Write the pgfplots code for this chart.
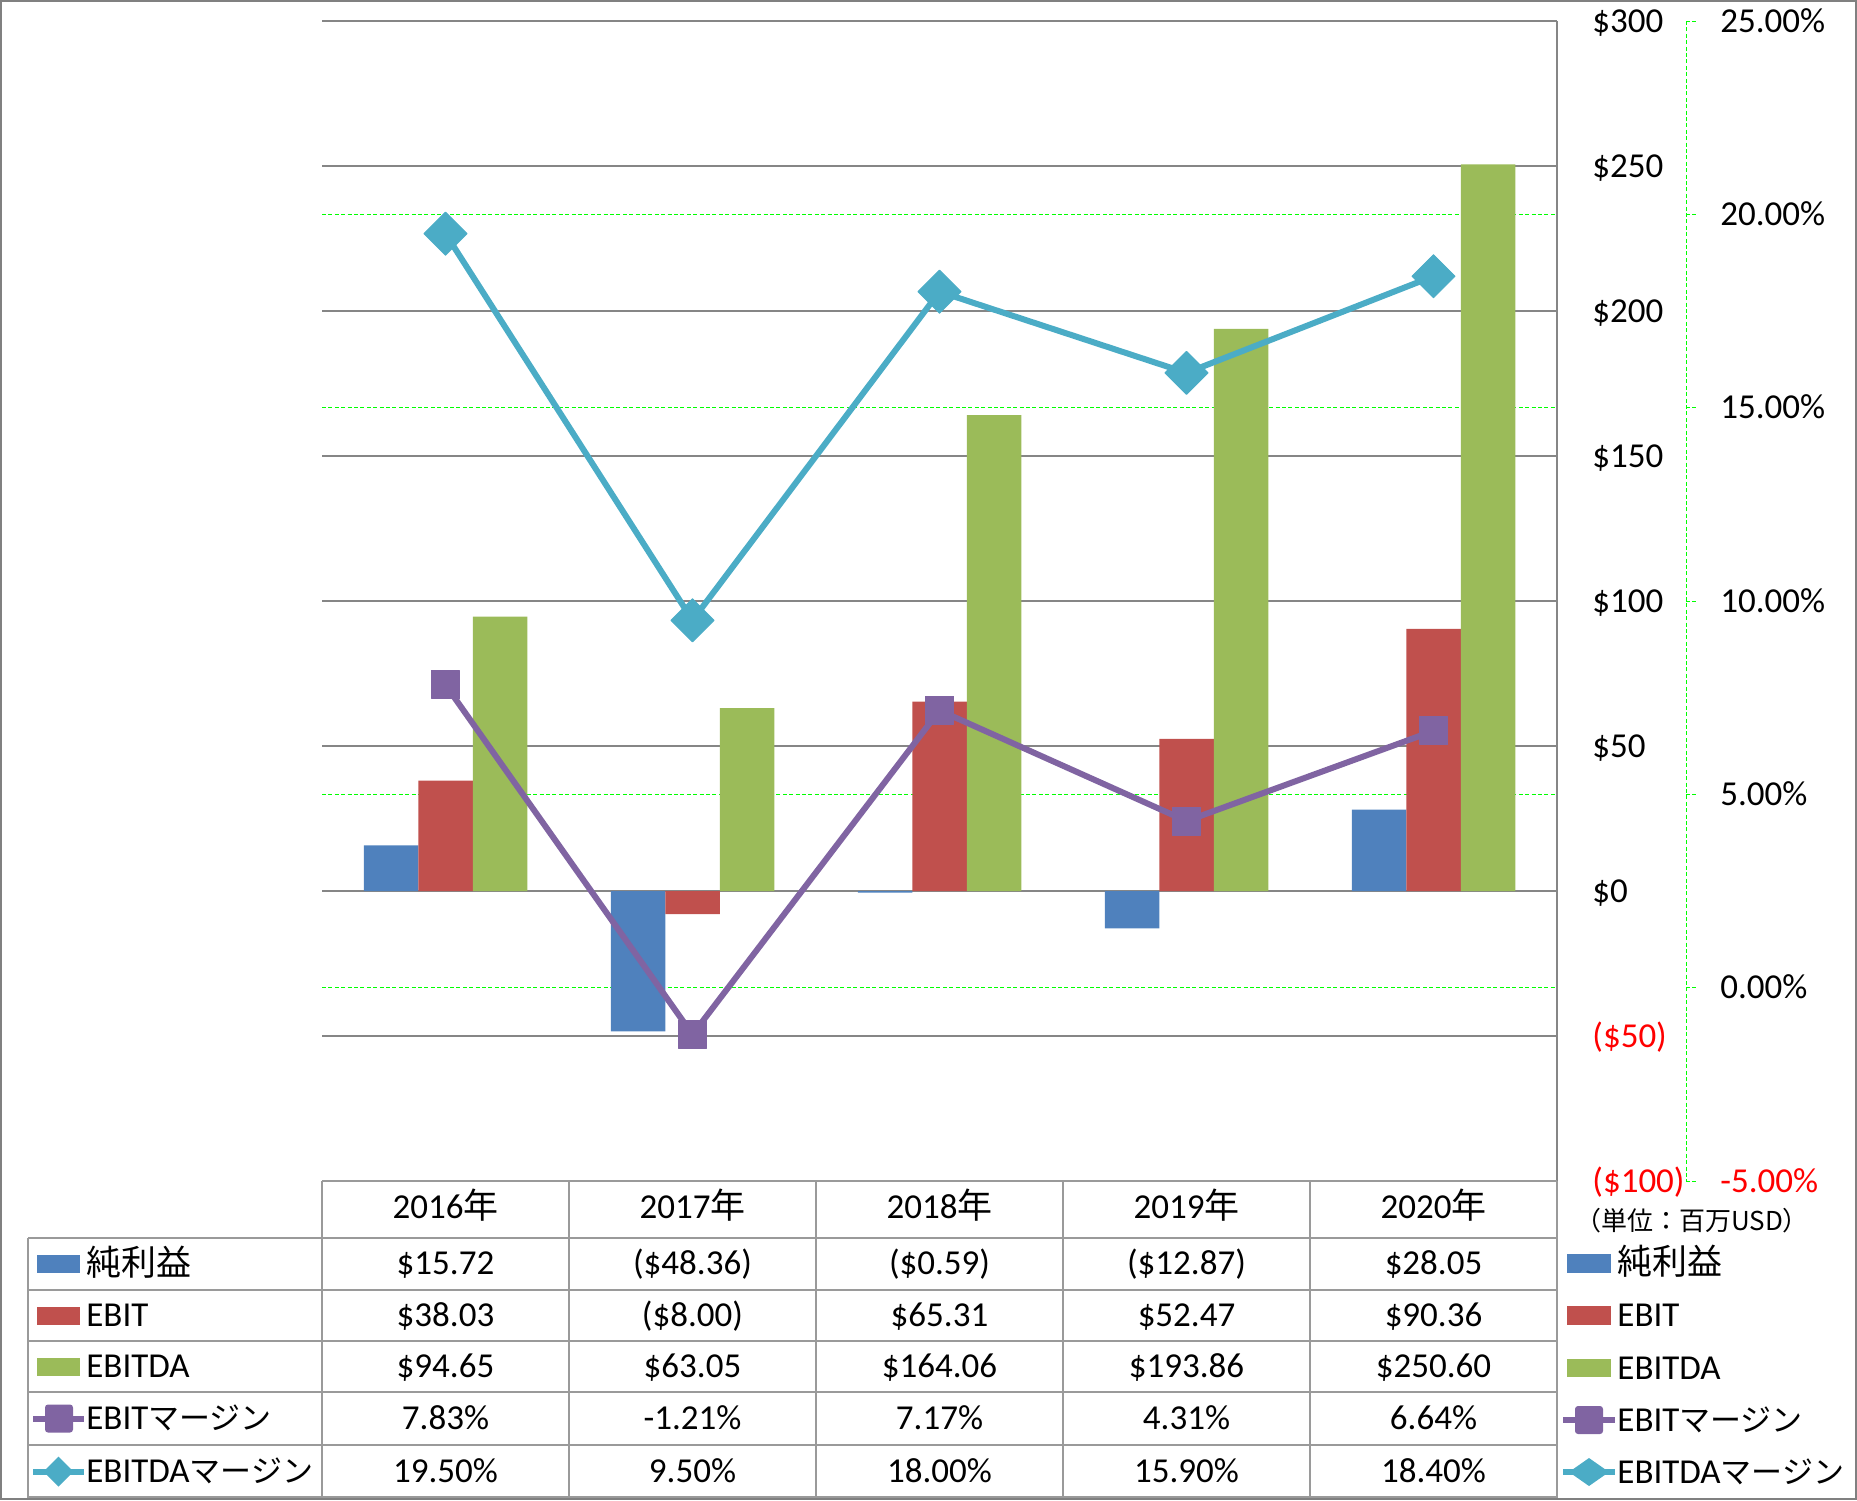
\documentclass[border=0pt]{standalone}
\usepackage{pgfplots}
\pgfplotsset{compat=1.18}
\usepackage{fontspec}
\setmainfont{Carlito}
\newfontfamily\cjk{Noto Sans CJK JP}
\newcommand{\kata}[1]{{\cjk\fontsize{15.5pt}{18pt}\selectfont #1}}
\definecolor{cNI}{HTML}{4F81BD}
\definecolor{cEBIT}{HTML}{C0504D}
\definecolor{cEBITDA}{HTML}{9BBB59}
\definecolor{cEM}{HTML}{8064A2}
\definecolor{cEDM}{HTML}{4BACC6}
\definecolor{gridgray}{HTML}{868686}
\definecolor{tabgray}{HTML}{9A9A9A}
\definecolor{ggreen}{HTML}{00FF00}
\begin{document}
\begin{tikzpicture}[font=\fontsize{17.5pt}{21pt}\selectfont]
\begin{scope}[x=0.5pt, y=-0.5pt]
\useasboundingbox (0,0) rectangle (1857,1500);
\end{scope}
% secondary scale: grid and labels only
\begin{axis}[
  at={(161pt,-590.5pt)}, anchor=south west,
  width=617.5pt, height=580pt, scale only axis,
  xmin=-0.5, xmax=4.5, ymin=-5, ymax=25,
  axis x line=none, axis y line*=right,
  axis line style={draw=none},
  xtick=\empty,
  ytick={0,5,10,15,20},
  yticklabels={0.00\%,5.00\%,10.00\%,15.00\%,20.00\%},
  extra y ticks={-5,25},
  extra y tick labels={{\color{red}-5.00\%},25.00\%},
  extra y tick style={grid=none},
  yticklabel style={anchor=west, inner sep=0pt, xshift=81.5pt, text height=13pt, text depth=2pt},
  major tick length=0pt,
  ymajorgrids, grid style={ggreen, line width=0.5pt, dash pattern=on 2pt off 1.2pt},
]
\end{axis}
% primary axis with bars
\begin{axis}[
  at={(161pt,-590.5pt)}, anchor=south west,
  width=617.5pt, height=580pt, scale only axis,
  xmin=-0.5, xmax=4.5, ymin=-100, ymax=300,
  axis x line=none, axis y line*=right,
  axis line style={gridgray, line width=0.75pt},
  xtick=\empty,
  ytick={-100,-50,0,50,100,150,200,250,300},
  yticklabels={{\color{red}(\$100)},{\color{red}(\$50)},\$0,\$50,\$100,\$150,\$200,\$250,\$300},
  yticklabel style={anchor=west, inner sep=0pt, xshift=17.5pt, text height=13pt, text depth=2pt},
  major tick length=0pt,
  ymajorgrids, grid style={gridgray, line width=0.75pt},
  ybar=0pt, bar width=27.25pt,
]
\addplot[fill=cNI, draw=none] coordinates {(0,15.72) (1,-48.36) (2,-0.59) (3,-12.87) (4,28.05)};
\addplot[fill=cEBIT, draw=none] coordinates {(0,38.03) (1,-8.00) (2,65.31) (3,52.47) (4,90.36)};
\addplot[fill=cEBITDA, draw=none] coordinates {(0,94.65) (1,63.05) (2,164.06) (3,193.86) (4,250.60)};
\end{axis}
% secondary scale: lines
\begin{axis}[
  at={(161pt,-590.5pt)}, anchor=south west,
  width=617.5pt, height=580pt, scale only axis,
  xmin=-0.5, xmax=4.5, ymin=-5, ymax=25,
  hide axis, clip=false,
]
\addplot[cEM, line width=3pt, line join=round, mark=square*, mark size=7pt,
  mark options={fill=cEM, draw=cEM, line width=0.5pt, rounded corners=1.5pt}]
  coordinates {(0,7.83) (1,-1.21) (2,7.17) (3,4.31) (4,6.64)};
\addplot[cEDM, line width=3pt, line join=round, mark=square*, mark size=7.6pt,
  mark options={fill=cEDM, draw=cEDM, line width=0.5pt, rotate=45, rounded corners=1.5pt}]
  coordinates {(0,19.5) (1,9.5) (2,18) (3,15.9) (4,18.4)};
\end{axis}
\begin{scope}[x=0.5pt, y=-0.5pt]
% secondary axis line and ticks
\draw[ggreen, line width=0.5pt, dash pattern=on 2pt off 1.2pt] (1686,21) -- (1686,1181);
\foreach \yy in {21,214.3,407.7,601,794.3,987.7,1181}
  \draw[ggreen, line width=0.5pt, dash pattern=on 2pt off 1.2pt] (1686,\yy) -- (1698,\yy);
% table lines
\begin{scope}[tabgray, line width=0.75pt]
\draw (322,1181) -- (1557,1181);
\foreach \yy in {1238,1290,1341,1392,1445,1497} \draw (28,\yy) -- (1557,\yy);
\foreach \xx in {322,569,816,1063,1310,1557} \draw (\xx,1181) -- (\xx,1498);
\draw (28,1238) -- (28,1498);
\end{scope}
% outer border
\draw[gray, line width=1.1pt] (1.1,1.1) rectangle (1855.9,1498.9);
\tikzset{tv/.style={text height=13pt, text depth=2pt, inner sep=0pt}}
% header
\foreach \xx/\t in {445.5/2016,692.5/2017,939.5/2018,1186.5/2019,1433.5/2020}
  \node[tv] at (\xx,1207) {\t{\cjk 年}};
% rows
\foreach \xx/\t in {445.5/\$15.72,692.5/(\$48.36),939.5/(\$0.59),1186.5/(\$12.87),1433.5/\$28.05}
  \node[tv] at (\xx,1263.5) {\t};
\foreach \xx/\t in {445.5/\$38.03,692.5/(\$8.00),939.5/\$65.31,1186.5/\$52.47,1433.5/\$90.36}
  \node[tv] at (\xx,1315.5) {\t};
\foreach \xx/\t in {445.5/\$94.65,692.5/\$63.05,939.5/\$164.06,1186.5/\$193.86,1433.5/\$250.60}
  \node[tv] at (\xx,1366.5) {\t};
\foreach \xx/\t in {445.5/7.83\%,692.5/-1.21\%,939.5/7.17\%,1186.5/4.31\%,1433.5/6.64\%}
  \node[tv] at (\xx,1418.5) {\t};
\foreach \xx/\t in {445.5/19.50\%,692.5/9.50\%,939.5/18.00\%,1186.5/15.90\%,1433.5/18.40\%}
  \node[tv] at (\xx,1471.5) {\t};
% left legend keys
\fill[cNI] (37,1255) rectangle (80,1273);
\node[tv, anchor=west] at (86,1264) {\cjk 純利益};
\fill[cEBIT] (37,1306.5) rectangle (80,1324.5);
\node[tv, anchor=west] at (86,1315.5) {EBIT};
\fill[cEBITDA] (37,1357.5) rectangle (80,1375.5);
\node[tv, anchor=west] at (86,1366.5) {EBITDA};
\draw[cEM, line width=3pt] (33,1418.5) -- (84,1418.5);
\fill[cEM, rounded corners=1.5pt] (45,1404.5) rectangle (73,1432.5);
\node[tv, anchor=west] at (86,1418.5) {EBIT\kata{マージン}};
\draw[cEDM, line width=3pt] (33,1471.5) -- (84,1471.5);
\fill[cEDM] (58.5,1456.5) -- (73.5,1471.5) -- (58.5,1486.5) -- (43.5,1471.5) -- cycle;
\node[tv, anchor=west] at (86,1471.5) {EBITDA\kata{マージン}};
% unit note
\node[font=\cjk\fontsize{13pt}{15pt}\selectfont] at (1692,1221) {（単位：百万USD）};
% right legend
\fill[cNI] (1567,1254) rectangle (1611,1272.5);
\node[tv, anchor=west] at (1617,1263) {\cjk 純利益};
\fill[cEBIT] (1567,1306) rectangle (1611,1324.5);
\node[tv, anchor=west] at (1617,1315) {EBIT};
\fill[cEBITDA] (1567,1358.5) rectangle (1611,1377);
\node[tv, anchor=west] at (1617,1368) {EBITDA};
\draw[cEM, line width=3pt] (1563,1420) -- (1615,1420);
\fill[cEM, rounded corners=1.5pt] (1575,1406) rectangle (1603,1434);
\node[tv, anchor=west] at (1617,1420) {EBIT\kata{マージン}};
\draw[cEDM, line width=3pt] (1563,1472) -- (1615,1472);
\fill[cEDM] (1589,1458) -- (1609,1472) -- (1589,1486) -- (1569,1472) -- cycle;
\node[tv, anchor=west] at (1617,1472) {EBITDA\kata{マージン}};
\end{scope}
\end{tikzpicture}
\end{document}
